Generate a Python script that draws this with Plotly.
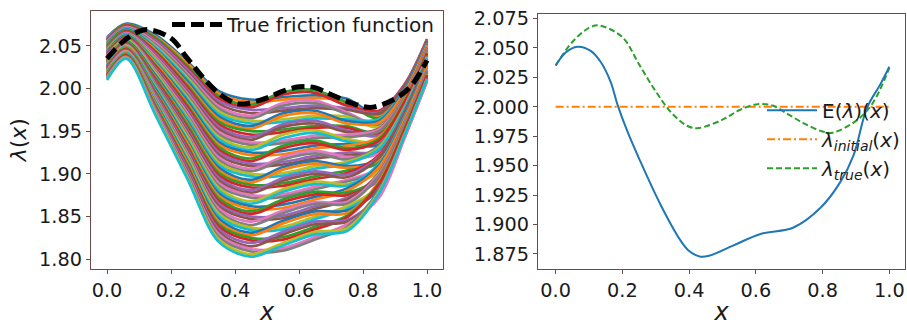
import plotly.graph_objects as go

# ---------------- data ----------------
# knot positions of the ensemble members (left panel)
x_knots = [0.0, 0.06, 0.15, 0.25, 0.35, 0.45, 0.55, 0.65, 0.75, 0.85, 0.93, 1.0]

# ensemble members lambda(x) at the knots (estimated from the band of curves)
ensemble = [
    [2.060, 2.076, 2.063, 2.032, 1.997, 1.987, 1.990, 1.992, 1.988, 1.969, 2.002, 2.055],
    [2.059, 2.075, 2.061, 2.030, 1.994, 1.984, 1.987, 1.989, 1.985, 1.967, 2.001, 2.055],
    [2.058, 2.075, 2.060, 2.027, 1.991, 1.981, 1.996, 1.998, 1.983, 1.965, 2.000, 2.054],
    [2.057, 2.074, 2.058, 2.025, 1.988, 1.978, 1.993, 1.995, 1.980, 1.974, 2.005, 2.058],
    [2.057, 2.073, 2.057, 2.023, 1.985, 1.975, 1.977, 1.980, 1.977, 1.972, 2.004, 2.057],
    [2.056, 2.073, 2.055, 2.020, 1.982, 1.971, 1.974, 1.977, 1.975, 1.971, 2.003, 2.056],
    [2.055, 2.072, 2.054, 2.018, 1.979, 1.968, 1.983, 1.986, 1.972, 1.958, 1.995, 2.050],
    [2.054, 2.071, 2.052, 2.016, 1.976, 1.965, 1.980, 1.983, 1.970, 1.957, 1.994, 2.050],
    [2.053, 2.070, 2.050, 2.013, 1.973, 1.962, 1.964, 1.968, 1.967, 1.955, 1.993, 2.049],
    [2.052, 2.070, 2.049, 2.011, 1.970, 1.959, 1.961, 1.965, 1.964, 1.964, 1.999, 2.053],
    [2.052, 2.069, 2.047, 2.009, 1.967, 1.956, 1.971, 1.974, 1.962, 1.962, 1.998, 2.052],
    [2.051, 2.068, 2.046, 2.006, 1.964, 1.953, 1.968, 1.971, 1.959, 1.960, 1.996, 2.051],
    [2.050, 2.068, 2.044, 2.004, 1.961, 1.950, 1.952, 1.956, 1.956, 1.948, 1.989, 2.045],
    [2.049, 2.067, 2.043, 2.002, 1.958, 1.946, 1.949, 1.954, 1.954, 1.946, 1.988, 2.044],
    [2.048, 2.066, 2.041, 1.999, 1.955, 1.943, 1.958, 1.962, 1.951, 1.945, 1.987, 2.044],
    [2.047, 2.066, 2.039, 1.997, 1.952, 1.940, 1.955, 1.959, 1.949, 1.953, 1.992, 2.048],
    [2.046, 2.065, 2.038, 1.995, 1.949, 1.937, 1.939, 1.945, 1.946, 1.952, 1.991, 2.047],
    [2.046, 2.064, 2.036, 1.993, 1.946, 1.934, 1.936, 1.942, 1.943, 1.950, 1.990, 2.046],
    [2.045, 2.063, 2.035, 1.990, 1.943, 1.931, 1.946, 1.951, 1.941, 1.938, 1.983, 2.040],
    [2.044, 2.063, 2.033, 1.988, 1.940, 1.928, 1.942, 1.948, 1.938, 1.936, 1.982, 2.039],
    [2.043, 2.062, 2.031, 1.986, 1.937, 1.925, 1.927, 1.933, 1.935, 1.934, 1.980, 2.039],
    [2.042, 2.061, 2.030, 1.983, 1.934, 1.922, 1.923, 1.930, 1.933, 1.943, 1.986, 2.043],
    [2.041, 2.061, 2.028, 1.981, 1.931, 1.918, 1.933, 1.939, 1.930, 1.941, 1.985, 2.042],
    [2.041, 2.060, 2.027, 1.979, 1.928, 1.915, 1.930, 1.936, 1.928, 1.939, 1.984, 2.041],
    [2.040, 2.059, 2.025, 1.976, 1.925, 1.912, 1.914, 1.921, 1.925, 1.927, 1.976, 2.035],
    [2.039, 2.059, 2.024, 1.974, 1.922, 1.909, 1.911, 1.918, 1.922, 1.926, 1.975, 2.034],
    [2.038, 2.058, 2.022, 1.972, 1.919, 1.906, 1.920, 1.927, 1.920, 1.924, 1.974, 2.033],
    [2.037, 2.057, 2.020, 1.969, 1.916, 1.903, 1.917, 1.924, 1.917, 1.933, 1.979, 2.038],
    [2.036, 2.057, 2.019, 1.967, 1.913, 1.900, 1.901, 1.909, 1.914, 1.931, 1.978, 2.037],
    [2.035, 2.056, 2.017, 1.965, 1.910, 1.897, 1.898, 1.906, 1.912, 1.929, 1.977, 2.036],
    [2.035, 2.055, 2.016, 1.962, 1.907, 1.893, 1.908, 1.915, 1.909, 1.917, 1.970, 2.030],
    [2.034, 2.054, 2.014, 1.960, 1.904, 1.890, 1.905, 1.912, 1.907, 1.915, 1.969, 2.029],
    [2.033, 2.054, 2.013, 1.958, 1.901, 1.887, 1.889, 1.897, 1.904, 1.913, 1.968, 2.028],
    [2.032, 2.053, 2.011, 1.955, 1.898, 1.884, 1.886, 1.894, 1.901, 1.922, 1.973, 2.033],
    [2.031, 2.052, 2.009, 1.953, 1.895, 1.881, 1.895, 1.903, 1.899, 1.920, 1.972, 2.032],
    [2.030, 2.052, 2.008, 1.951, 1.892, 1.878, 1.892, 1.900, 1.896, 1.919, 1.971, 2.031],
    [2.030, 2.051, 2.006, 1.948, 1.889, 1.875, 1.876, 1.885, 1.893, 1.907, 1.963, 2.025],
    [2.029, 2.050, 2.005, 1.946, 1.886, 1.872, 1.873, 1.882, 1.891, 1.905, 1.962, 2.024],
    [2.028, 2.050, 2.003, 1.944, 1.883, 1.868, 1.882, 1.891, 1.888, 1.903, 1.961, 2.023],
    [2.027, 2.049, 2.002, 1.941, 1.880, 1.865, 1.879, 1.888, 1.886, 1.912, 1.967, 2.028],
    [2.026, 2.048, 2.000, 1.939, 1.877, 1.862, 1.864, 1.873, 1.883, 1.910, 1.965, 2.027],
    [2.025, 2.048, 1.998, 1.937, 1.874, 1.859, 1.860, 1.870, 1.880, 1.908, 1.964, 2.026],
    [2.024, 2.047, 1.997, 1.934, 1.871, 1.856, 1.870, 1.879, 1.878, 1.896, 1.957, 2.020],
    [2.024, 2.046, 1.995, 1.932, 1.868, 1.853, 1.867, 1.876, 1.875, 1.894, 1.956, 2.019],
    [2.023, 2.045, 1.994, 1.930, 1.865, 1.850, 1.851, 1.862, 1.872, 1.893, 1.955, 2.018],
    [2.022, 2.045, 1.992, 1.928, 1.862, 1.847, 1.848, 1.859, 1.870, 1.901, 1.960, 2.022],
    [2.021, 2.044, 1.991, 1.925, 1.859, 1.844, 1.857, 1.867, 1.867, 1.900, 1.959, 2.022],
    [2.020, 2.043, 1.989, 1.923, 1.856, 1.840, 1.854, 1.865, 1.865, 1.898, 1.958, 2.021],
    [2.019, 2.043, 1.987, 1.921, 1.853, 1.837, 1.838, 1.850, 1.862, 1.886, 1.951, 2.015],
    [2.018, 2.042, 1.986, 1.918, 1.850, 1.834, 1.835, 1.847, 1.859, 1.884, 1.949, 2.014],
    [2.018, 2.041, 1.984, 1.916, 1.847, 1.831, 1.845, 1.856, 1.857, 1.882, 1.948, 2.013],
    [2.017, 2.041, 1.983, 1.914, 1.844, 1.828, 1.842, 1.853, 1.854, 1.891, 1.954, 2.017],
    [2.016, 2.040, 1.981, 1.911, 1.841, 1.825, 1.826, 1.838, 1.851, 1.889, 1.953, 2.016],
    [2.015, 2.039, 1.979, 1.909, 1.838, 1.822, 1.823, 1.835, 1.849, 1.888, 1.952, 2.016],
    [2.014, 2.038, 1.978, 1.907, 1.835, 1.819, 1.832, 1.844, 1.846, 1.875, 1.944, 2.010],
    [2.013, 2.038, 1.976, 1.904, 1.832, 1.815, 1.829, 1.841, 1.844, 1.874, 1.943, 2.009],
    [2.013, 2.037, 1.975, 1.902, 1.829, 1.812, 1.813, 1.826, 1.841, 1.872, 1.942, 2.008],
    [2.012, 2.036, 1.973, 1.900, 1.826, 1.809, 1.810, 1.823, 1.838, 1.881, 1.947, 2.012],
    [2.011, 2.036, 1.972, 1.897, 1.823, 1.806, 1.819, 1.832, 1.836, 1.879, 1.946, 2.011],
    [2.010, 2.035, 1.970, 1.895, 1.820, 1.803, 1.816, 1.829, 1.833, 1.877, 1.945, 2.011],
]

# true friction function
true_x = [0.0, 0.05, 0.1, 0.13, 0.2, 0.25, 0.3, 0.35, 0.4, 0.43, 0.5, 0.55,
          0.6, 0.65, 0.7, 0.75, 0.8, 0.83, 0.9, 0.95, 1.0]
true_y = [2.035, 2.055, 2.067, 2.069, 2.059, 2.036, 2.013, 1.994, 1.983, 1.982, 1.989, 1.997,
          2.002, 2.001, 1.993, 1.985, 1.979, 1.978, 1.988, 2.003, 2.033]

# ensemble mean E(lambda)(x)
mean_x = [0.0, 0.03, 0.065, 0.105, 0.135, 0.165, 0.185, 0.215, 0.25, 0.314, 0.374, 0.40,
          0.434, 0.46, 0.533, 0.614, 0.713, 0.793, 0.853, 0.893, 0.933, 0.973, 1.0]
mean_y = [2.035, 2.046, 2.051, 2.0475, 2.038, 2.021, 2.002, 1.979, 1.956, 1.917, 1.8865, 1.8775,
          1.8727, 1.8735, 1.8823, 1.892, 1.8975, 1.914, 1.936, 1.959, 1.999, 2.019, 2.034]

# initial guess
init_x = [0.0, 1.0]
init_y = [2.0, 2.0]

left_xticks = [0.0, 0.2, 0.4, 0.6, 0.8, 1.0]
left_yticks = [1.80, 1.85, 1.90, 1.95, 2.00, 2.05]
right_yticks = [1.875, 1.900, 1.925, 1.950, 1.975, 2.000, 2.025, 2.050, 2.075]

# ---------------- styling ----------------
W, H = 907, 326
tab10 = ['#1f77b4', '#ff7f0e', '#2ca02c', '#d62728', '#9467bd',
         '#8c564b', '#e377c2', '#7f7f7f', '#bcbd22', '#17becf']
FONT = "DejaVu Sans"
TXT = "#1a1a1a"
SPINE = "#6b4b47"
TICKSIZE = 19.3
LEGSIZE = 20

fig = go.Figure()

for i, row in enumerate(ensemble):
    fig.add_trace(go.Scatter(
        x=x_knots, y=row, mode="lines",
        line=dict(color=tab10[i % 10], width=2.7, shape="spline", smoothing=0.9),
        showlegend=False, hoverinfo="skip", xaxis="x", yaxis="y"))

fig.add_trace(go.Scatter(
    x=true_x, y=true_y, mode="lines", name="True friction function",
    line=dict(color="black", width=5, dash="13px,6px", shape="spline"),
    xaxis="x", yaxis="y", legend="legend"))

fig.add_trace(go.Scatter(
    x=init_x, y=init_y, mode="lines",
    name="<i>λ</i><sub><i>initial</i></sub>(<i>x</i>)",
    line=dict(color=tab10[1], width=2, dash="8px,3px,2px,3px"),
    xaxis="x2", yaxis="y2", legend="legend2", legendgroup="b", legendrank=2))
fig.add_trace(go.Scatter(
    x=true_x, y=true_y, mode="lines",
    name="<i>λ</i><sub><i>true</i></sub>(<i>x</i>)",
    line=dict(color=tab10[2], width=2, dash="6px,3px", shape="spline"),
    xaxis="x2", yaxis="y2", legend="legend2", legendgroup="c", legendrank=3))
fig.add_trace(go.Scatter(
    x=mean_x, y=mean_y, mode="lines", name="E(<i>λ</i>)(<i>x</i>)",
    line=dict(color=tab10[0], width=2, shape="spline"),
    xaxis="x2", yaxis="y2", legend="legend2", legendgroup="a", legendrank=1))


def px_x(p):
    return p / W


def px_y(p):
    return 1 - p / H


axis_common = dict(
    showline=True, linecolor=SPINE, linewidth=1.3, mirror=True,
    ticks="outside", ticklen=4, tickwidth=1.2, tickcolor=SPINE,
    showgrid=False, zeroline=False,
    tickfont=dict(family=FONT, size=TICKSIZE, color=TXT),
)

fig.update_layout(
    width=W, height=H,
    margin=dict(l=0, r=0, t=0, b=0),
    paper_bgcolor="white", plot_bgcolor="white",
    font=dict(family=FONT, color=TXT),
    xaxis=dict(domain=[px_x(91), px_x(443)], range=[-0.05, 1.05],
               tickvals=left_xticks, tickformat=".1f", anchor="y",
               title=dict(text="<i>x</i>", font=dict(family=FONT, size=24, color=TXT), standoff=2),
               **axis_common),
    yaxis=dict(domain=[px_y(269), px_y(4)], range=[1.789, 2.091],
               tickvals=left_yticks, tickformat=".2f", anchor="x",
               title=dict(text="<i>λ</i>(<i>x</i>)", font=dict(family=FONT, size=22, color=TXT), standoff=6),
               **axis_common),
    xaxis2=dict(domain=[px_x(538), px_x(905)], range=[-0.053, 1.047],
                tickvals=left_xticks, tickformat=".1f", anchor="y2",
                title=dict(text="<i>x</i>", font=dict(family=FONT, size=24, color=TXT), standoff=2),
                **axis_common),
    yaxis2=dict(domain=[px_y(269), px_y(7.5)], range=[1.8626, 2.0785],
                tickvals=right_yticks, tickformat=".3f", anchor="x2",
                **axis_common),
    legend=dict(x=px_x(167), y=px_y(-2), xanchor="left", yanchor="top",
                bgcolor="rgba(0,0,0,0)", borderwidth=0, itemwidth=50,
                font=dict(family=FONT, size=LEGSIZE, color=TXT)),
    legend2=dict(x=px_x(762), y=px_y(86), xanchor="left", yanchor="top",
                 bgcolor="rgba(0,0,0,0)", borderwidth=0, tracegroupgap=0, itemwidth=50,
                 font=dict(family=FONT, size=LEGSIZE, color=TXT)),
)

fig.write_html("out.html")
